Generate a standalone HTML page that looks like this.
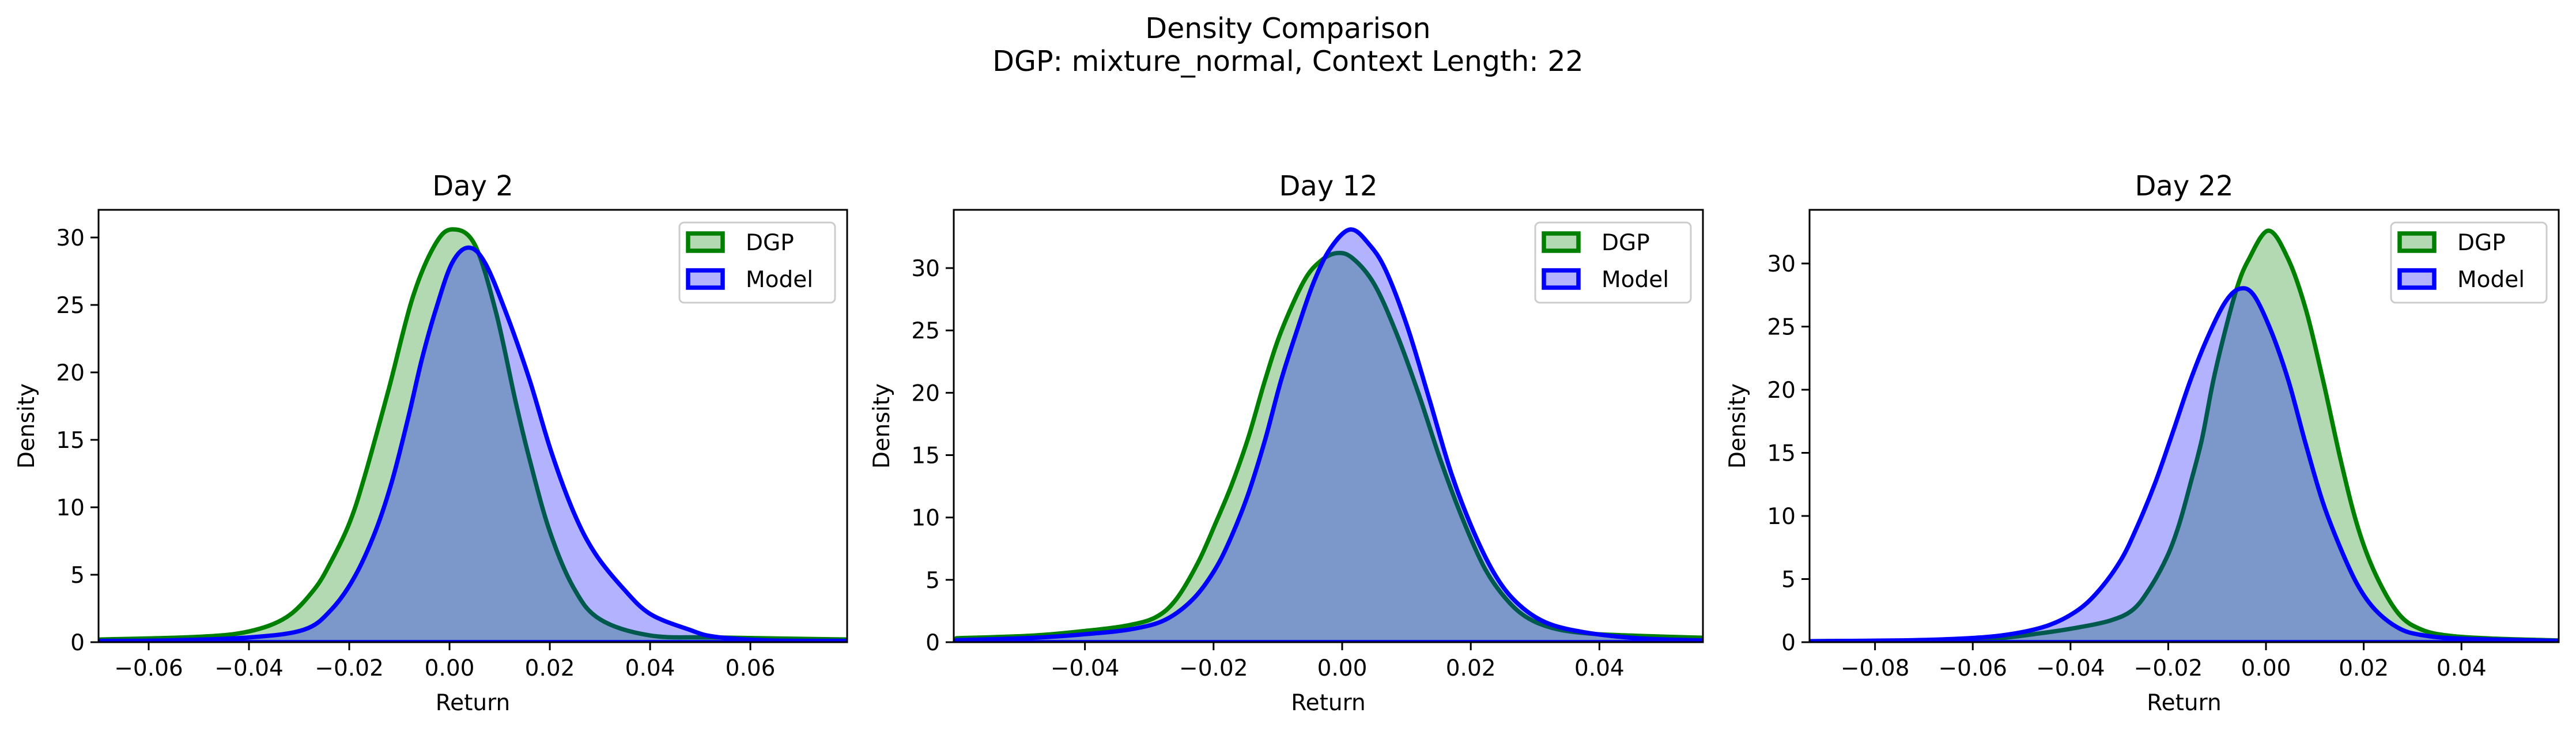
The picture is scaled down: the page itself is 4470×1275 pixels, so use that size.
<!DOCTYPE html>
<html><head><meta charset="utf-8">
<style>
html,body{margin:0;padding:0;background:#fff;}
svg{display:block;font-family:"DejaVu Sans","Liberation Sans",sans-serif;}
</style></head>
<body>
<svg id="fig" width="4470" height="1275" viewBox="0 0 4470 1275" xmlns="http://www.w3.org/2000/svg">
<text x="2235" y="66" font-size="49" text-anchor="middle">Density Comparison</text>
<text x="2235" y="123" font-size="49" text-anchor="middle">DGP: mixture_normal, Context Length: 22</text>
</svg>
<script>
// ---- data ----
const panelTitles = ["Day 2", "Day 12", "Day 22"];
const seriesNames = ["DGP", "Model"];
const xTicks1 = [-0.06, -0.04, -0.02, 0.00, 0.02, 0.04, 0.06];
const xTicks2 = [-0.04, -0.02, 0.00, 0.02, 0.04];
const xTicks3 = [-0.08, -0.06, -0.04, -0.02, 0.00, 0.02, 0.04];
const yTicks = [0, 5, 10, 15, 20, 25, 30];

const dgp1X = [-0.0697,-0.050,-0.040,-0.0325,-0.027,-0.0236,-0.020,-0.017,-0.0121,-0.0074,-0.003,0.0005,0.005,0.0093,0.0132,0.016,0.020,0.0248,0.030,0.040,0.053,0.079];
const dgp1Y = [0.2,0.4,0.8,1.86,3.9,6.0,8.8,12.2,18.8,25.5,29.4,30.6,29.5,24.4,17.8,13.5,8.2,4.0,1.7,0.5,0.35,0.2];
const mod1X = [-0.0697,-0.0565,-0.040,-0.029,-0.0236,-0.019,-0.0148,-0.0115,-0.0082,-0.0055,-0.0027,0.0005,0.0038,0.0071,0.0115,0.016,0.0203,0.0248,0.029,0.0346,0.040,0.0478,0.053,0.064,0.079];
const mod1Y = [0.1,0.13,0.35,0.93,2.4,4.8,8.2,11.9,16.7,21.0,24.7,28.1,29.25,28.1,24.2,19.4,14.1,9.6,6.6,4.0,2.1,0.93,0.4,0.13,0.1];

const dgp2X = [-0.060,-0.048,-0.0395,-0.0335,-0.029,-0.0258,-0.0224,-0.0198,-0.0172,-0.0146,-0.012,-0.0095,-0.006,-0.0035,-0.0009,0.0016,0.005,0.0085,0.0119,0.0153,0.0188,0.0222,0.0256,0.029,0.0333,0.0393,0.048,0.0565];
const dgp2Y = [0.32,0.53,0.93,1.33,2.0,3.45,6.4,9.4,12.6,16.4,21.0,24.9,28.9,30.5,31.2,30.8,28.7,24.7,19.9,14.6,9.8,5.9,3.4,1.9,1.06,0.66,0.48,0.35];
const mod2X = [-0.060,-0.048,-0.0395,-0.0326,-0.0275,-0.0232,-0.0198,-0.0172,-0.0146,-0.012,-0.0095,-0.0069,-0.0044,-0.0018,0.0013,0.0042,0.0068,0.0102,0.0136,0.017,0.0205,0.0239,0.0273,0.0316,0.0376,0.046,0.0565];
const mod2Y = [0.16,0.35,0.66,1.06,1.8,3.45,5.8,8.5,11.9,16.2,21.0,25.2,28.9,31.6,33.1,31.9,29.8,25.2,19.4,13.5,8.8,5.3,3.1,1.6,0.8,0.32,0.13];

const dgp3X = [-0.0935,-0.069,-0.0557,-0.0463,-0.039,-0.032,-0.0273,-0.0238,-0.0202,-0.0178,-0.0155,-0.0131,-0.0108,-0.0084,-0.006,-0.0037,0.0005,0.0046,0.0082,0.0117,0.0153,0.0188,0.0224,0.0271,0.0318,0.0378,0.047,0.0597];
const dgp3Y = [0.08,0.14,0.28,0.7,1.13,1.7,2.55,4.25,6.8,9.3,12.5,16.1,20.7,24.6,28.0,30.2,32.6,30.3,26.3,20.7,14.4,9.1,5.4,2.27,1.0,0.5,0.28,0.14];
const mod3X = [-0.0935,-0.0746,-0.0627,-0.0534,-0.045,-0.039,-0.0344,-0.0297,-0.0262,-0.0226,-0.019,-0.0155,-0.012,-0.0084,-0.0054,-0.0025,0.0011,0.0046,0.0082,0.0117,0.0153,0.0188,0.0224,0.0271,0.0318,0.040,0.0597];
const mod3Y = [0.08,0.14,0.28,0.57,1.27,2.4,4.0,6.5,9.3,12.7,16.7,20.7,24.1,26.9,28.0,27.5,24.6,20.7,15.6,11.0,7.4,4.5,2.55,1.13,0.57,0.28,0.11];

const xDomains = [[-0.0700,0.0793],[-0.0604,0.0561],[-0.0934,0.0599]];
const yMaxes = [32.05, 34.67, 34.25];

// ---- layout ----
const NS = "http://www.w3.org/2000/svg";
const svg = document.getElementById("fig");
const boxes = [{l:171,r:1470},{l:1655,r:2955},{l:3140,r:4440}];
const TOP = 364, BOT = 1114;
const FS = 39, TFS = 48;
const xTickSets = [xTicks1, xTicks2, xTicks3];
const series = [[[dgp1X,dgp1Y],[mod1X,mod1Y]],[[dgp2X,dgp2Y],[mod2X,mod2Y]],[[dgp3X,dgp3Y],[mod3X,mod3Y]]];
const colors = [{line:"#008000",fill:"rgba(0,128,0,0.3)"},{line:"#0000ff",fill:"rgba(0,0,255,0.3)"}];

function mk(tag, attrs, parent){
  const e = document.createElementNS(NS, tag);
  for (const k in attrs) e.setAttribute(k, attrs[k]);
  (parent||svg).appendChild(e);
  return e;
}
function fmt(v){ const s = Math.abs(v).toFixed(2); return (v < -1e-9 ? "\u2212" : "") + s; }

function curvePath(pts){
  let d = "M" + pts[0][0].toFixed(1) + "," + pts[0][1].toFixed(1);
  for (let i = 0; i < pts.length - 1; i++){
    const p0 = pts[Math.max(i-1,0)], p1 = pts[i], p2 = pts[i+1], p3 = pts[Math.min(i+2,pts.length-1)];
    const c1x = p1[0] + (p2[0]-p0[0])/6, c1y = p1[1] + (p2[1]-p0[1])/6;
    const c2x = p2[0] - (p3[0]-p1[0])/6, c2y = p2[1] - (p3[1]-p1[1])/6;
    d += " C" + c1x.toFixed(1) + "," + Math.min(c1y,BOT).toFixed(1) + " " + c2x.toFixed(1) + "," + Math.min(c2y,BOT).toFixed(1) + " " + p2[0].toFixed(1) + "," + p2[1].toFixed(1);
  }
  return d;
}

for (let p = 0; p < 3; p++){
  const b = boxes[p];
  const [x0, x1] = xDomains[p];
  const ymax = yMaxes[p];
  const sx = v => b.l + (v - x0) / (x1 - x0) * (b.r - b.l);
  const sy = v => BOT - v / ymax * (BOT - TOP);
  const g = mk("g", {});
  
  
  const clipId = "clip" + p;
  const cp = mk("clipPath", {id: clipId}, g);
  mk("rect", {x: b.l, y: TOP, width: b.r - b.l, height: BOT - TOP}, cp);
  const plot = mk("g", {"clip-path": "url(#" + clipId + ")"}, g);

  for (let s = 0; s < 2; s++){
    const [xs, ys] = series[p][s];
    const pts = xs.map((x, i) => [sx(x), sy(ys[i])]);
    const d = curvePath(pts) + " L" + sx(xs[xs.length-1]).toFixed(1) + "," + sy(0) + " L" + sx(xs[0]).toFixed(1) + "," + sy(0) + " Z";
    const path = mk("path", {d: d, fill: colors[s].fill, stroke: colors[s].line, "stroke-width": 7.5, "stroke-linejoin": "round"}, plot);
    
    
  }

  const frame = mk("rect", {x: b.l, y: TOP, width: b.r - b.l, height: BOT - TOP, fill: "none", stroke: "#000", "stroke-width": 3}, g);
  
  

  xTickSets[p].forEach(v => {
    const x = sx(v);
    mk("line", {x1: x, x2: x, y1: BOT, y2: BOT + 14, stroke: "#000", "stroke-width": 3}, g);
    const t = mk("text", {x: x, y: BOT + 58, "font-size": FS, "text-anchor": "middle"}, g);
    t.textContent = fmt(v);
    
    
  });
  yTicks.forEach(v => {
    const y = sy(v);
    mk("line", {x1: b.l - 14, x2: b.l, y1: y, y2: y, stroke: "#000", "stroke-width": 3}, g);
    const t = mk("text", {x: b.l - 24, y: y + 14, "font-size": FS, "text-anchor": "end"}, g);
    t.textContent = String(v);
    
    
  });

  const cx = (b.l + b.r) / 2;
  const title = mk("text", {x: cx, y: 339, "font-size": TFS, "text-anchor": "middle"}, g);
  title.textContent = panelTitles[p];
  
  

  const xl = mk("text", {x: cx, y: 1232, "font-size": FS, "text-anchor": "middle"}, g);
  xl.textContent = "Return";
  
  

  const ylx = b.l - 112;
  const yl = mk("text", {x: ylx, y: (TOP + BOT) / 2, "font-size": FS, "text-anchor": "middle", transform: "rotate(-90 " + ylx + " " + (TOP + BOT) / 2 + ")"}, g);
  yl.textContent = "Density";
  
  

  const lg = mk("g", {}, g);
  
  
  const lw = 270, lh = 139, lx = b.r - 21 - lw, ly = TOP + 22;
  mk("rect", {x: lx, y: ly, width: lw, height: lh, rx: 8, fill: "rgba(255,255,255,0.8)", stroke: "#cccccc", "stroke-width": 3}, lg);
  for (let s = 0; s < 2; s++){
    const yy = ly + 19 + s * 64;
    const sw = mk("rect", {x: lx + 15, y: yy, width: 60, height: 30, fill: colors[s].fill, stroke: colors[s].line, "stroke-width": 7.5}, lg);
    
    
    const lt = mk("text", {x: lx + 115, y: yy + 29, "font-size": FS}, lg);
    lt.textContent = seriesNames[s];
    
    
  }
}
</script>
</body></html>
